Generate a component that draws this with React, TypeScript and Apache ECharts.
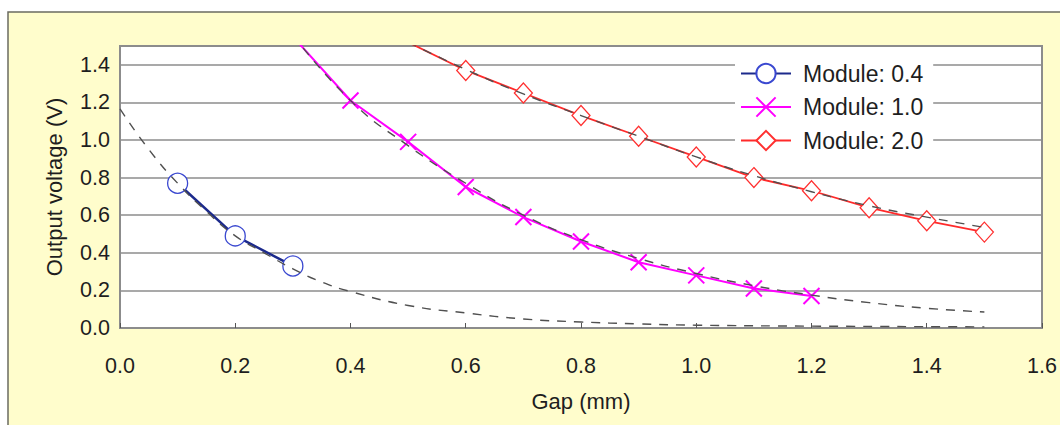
import React, { useEffect, useRef } from "react";
import * as echarts from "echarts";

// Measured data
const gap04 = [0.1, 0.2, 0.3];
const volt04 = [0.77, 0.49, 0.33];

const gap10 = [0.3, 0.4, 0.5, 0.6, 0.7, 0.8, 0.9, 1.0, 1.1, 1.2];
const volt10 = [1.55, 1.21, 0.99, 0.75, 0.59, 0.46, 0.35, 0.28, 0.21, 0.17];

const gap20 = [0.5, 0.6, 0.7, 0.8, 0.9, 1.0, 1.1, 1.2, 1.3, 1.4, 1.5];
const volt20 = [1.52, 1.37, 1.25, 1.13, 1.02, 0.91, 0.8, 0.73, 0.64, 0.57, 0.51];

// Dashed trend curves
const fitGap04 = [0.0, 0.05, 0.1, 0.15, 0.2, 0.25, 0.3, 0.35, 0.4, 0.5, 0.6, 0.7, 0.8, 0.9, 1.0, 1.2, 1.5];
const fitVolt04 = [1.165, 0.95, 0.77, 0.62, 0.49, 0.4, 0.315, 0.245, 0.194, 0.12, 0.08, 0.048, 0.032, 0.022, 0.015, 0.01, 0.006];

const fitGap10 = [0.3, 0.4, 0.5, 0.6, 0.7, 0.8, 0.9, 1.0, 1.1, 1.2, 1.3, 1.4, 1.5];
const fitVolt10 = [1.56, 1.21, 0.97, 0.77, 0.6, 0.47, 0.37, 0.29, 0.225, 0.175, 0.135, 0.105, 0.085];

const fitGap20 = [0.5, 0.6, 0.7, 0.8, 0.9, 1.0, 1.1, 1.2, 1.3, 1.4, 1.5];
const fitVolt20 = [1.52, 1.375, 1.245, 1.13, 1.02, 0.91, 0.81, 0.725, 0.65, 0.59, 0.535];

const seriesNames = ["Module: 0.4", "Module: 1.0", "Module: 2.0"];
const xTicks = { min: 0, max: 1.6, interval: 0.2 };
const yTicks = { min: 0, max: 1.5, interval: 0.2 };

const FONT = "'Liberation Sans', Arial, Helvetica, sans-serif";
const X_PATH = "path://M0,0L10,10M10,0L0,10";

function pairs(xs: number[], ys: number[]) {
  return xs.map((x, i) => [x, ys[i]]);
}

function withHiddenOverflow(xs: number[], ys: number[], max: number) {
  return xs.map((x, i) =>
    ys[i] > max ? { value: [x, ys[i]], symbol: "none" } : [x, ys[i]]
  );
}

export default function App() {
  const ref = useRef<HTMLDivElement>(null);
  useEffect(() => {
    if (!ref.current) return;
    const chart = echarts.init(ref.current, undefined, { renderer: "svg" });
    const fitStyle = {
      type: "line",
      smooth: true,
      symbol: "none",
      silent: true,
      z: 4,
      lineStyle: { color: "#505050", width: 1.4, type: [9, 8] },
    };
    chart.setOption({
      animation: false,
      backgroundColor: "#ffffff",
      textStyle: { fontFamily: FONT },
      graphic: [
        {
          type: "rect",
          z: -10,
          shape: { x: 8, y: 12, width: 1070, height: 430 },
          style: { fill: "#fffdcc", stroke: "#6b6b60", lineWidth: 1.5 },
        },
      ],
      grid: {
        left: 120,
        right: 18,
        top: 46,
        bottom: 97,
        show: true,
        backgroundColor: "#ffffff",
        borderColor: "#8c8c8c",
        borderWidth: 2,
      },
      legend: {
        data: seriesNames,
        orient: "vertical",
        left: 735,
        top: 57,
        padding: [5, 10, 5, 5],
        backgroundColor: "#ffffff",
        itemWidth: 50,
        itemHeight: 24,
        itemGap: 10.5,
        textStyle: {
          fontSize: 23,
          color: "#1e1e1e",
          fontFamily: FONT,
          padding: [0, 0, 0, 7],
        },
      },
      xAxis: {
        type: "value",
        min: xTicks.min,
        max: xTicks.max,
        interval: xTicks.interval,
        name: "Gap (mm)",
        nameLocation: "middle",
        nameGap: 62,
        nameTextStyle: { fontSize: 22, color: "#1e1e1e", fontFamily: FONT },
        axisLine: { show: true, lineStyle: { color: "#8c8c8c", width: 2 } },
        axisTick: { show: true, inside: true, length: 5, lineStyle: { color: "#555" } },
        splitLine: { show: false },
        axisLabel: {
          fontSize: 21.5,
          color: "#1e1e1e",
          margin: 27,
          fontFamily: FONT,
          formatter: (v: number) => v.toFixed(1),
        },
      },
      yAxis: {
        type: "value",
        min: yTicks.min,
        max: yTicks.max,
        interval: yTicks.interval,
        name: "Output voltage (V)",
        nameLocation: "middle",
        nameGap: 55,
        nameRotate: 90,
        nameTextStyle: { fontSize: 22, color: "#1e1e1e", fontFamily: FONT },
        axisLine: { show: false },
        axisTick: { show: false },
        splitLine: { show: true, lineStyle: { color: "#8c8c8c", width: 1.5 } },
        axisLabel: {
          fontSize: 21.5,
          color: "#1e1e1e",
          margin: 10,
          fontFamily: FONT,
          showMaxLabel: false,
          formatter: (v: number) => v.toFixed(1),
        },
      },
      series: [
        {
          name: seriesNames[0],
          type: "line",
          data: pairs(gap04, volt04),
          symbol: "circle",
          symbolSize: 20,
          z: 3,
          lineStyle: { color: "#1c2a8c", width: 2.5 },
          itemStyle: { color: "#ffffff", borderColor: "#3a48d0", borderWidth: 1.3 },
        },
        {
          name: seriesNames[1],
          type: "line",
          data: withHiddenOverflow(gap10, volt10, yTicks.max),
          symbol: X_PATH,
          symbolSize: 16,
          z: 3,
          lineStyle: { color: "#ff00ff", width: 2 },
          itemStyle: { color: "rgba(0,0,0,0)", borderColor: "#ff00ff", borderWidth: 2 },
        },
        {
          name: seriesNames[2],
          type: "line",
          data: withHiddenOverflow(gap20, volt20, yTicks.max),
          symbol: "diamond",
          symbolSize: [18, 20],
          z: 3,
          lineStyle: { color: "#ff2a2a", width: 1.8 },
          itemStyle: { color: "#ffffff", borderColor: "#ff3030", borderWidth: 1.3 },
        },
        { ...fitStyle, name: "fit04", data: pairs(fitGap04, fitVolt04) },
        { ...fitStyle, name: "fit10", data: pairs(fitGap10, fitVolt10) },
        { ...fitStyle, name: "fit20", data: pairs(fitGap20, fitVolt20) },
      ],
    });
    return () => chart.dispose();
  }, []);
  return (
    <div
      ref={ref}
      style={{ position: "fixed", left: 0, top: 0, width: 1060, height: 425 }}
    />
  );
}
